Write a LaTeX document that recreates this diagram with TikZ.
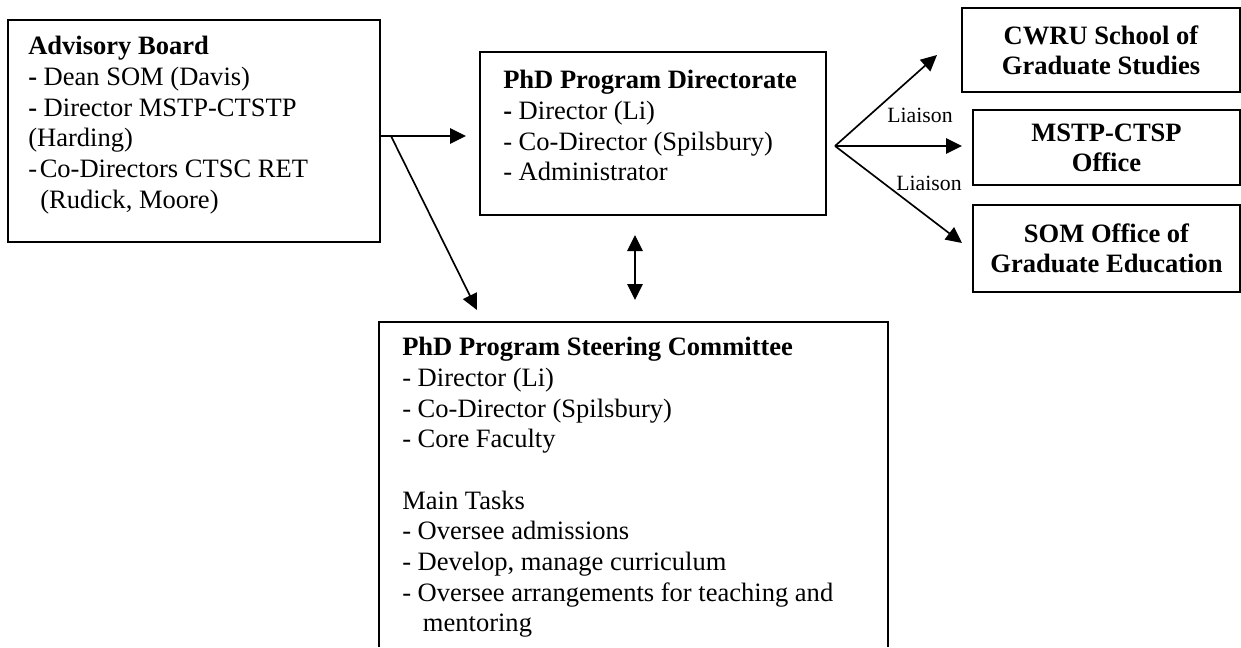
\documentclass[tikz,border=0pt]{standalone}
\usepackage{fontspec}
\setmainfont{Liberation Serif}
\usetikzlibrary{arrows.meta}
\begin{document}
\begin{tikzpicture}[x=0.75pt,y=-0.75pt,
  box/.style={draw, line width=1.3pt, inner sep=0pt, outer sep=0pt},
  frame/.style={inner sep=0pt, outer sep=0pt},
  body/.style={anchor=north west, align=left, inner sep=0pt, font=\fontsize{19.9pt}{23pt}\selectfont},
  ctr/.style={align=center, inner sep=0pt, font=\fontsize{19.9pt}{22.5pt}\selectfont\bfseries},
  conn/.style={line width=1.25pt},
  arr/.style={conn, -{Triangle[length=12pt,width=11.5pt]}},
  dbl/.style={conn, {Triangle[length=12pt,width=11.5pt]}-{Triangle[length=12pt,width=11.5pt]}},
  lbl/.style={inner sep=0pt, font=\fontsize{16.3pt}{18pt}\selectfont}]
\useasboundingbox (0,0) rectangle (1241,647);

% boxes
\node[box, minimum width=279pt, minimum height=166.5pt] (adv) at (194,131) {};
\node[box, minimum width=259.5pt, minimum height=122.25pt] (dir) at (653,133.5) {};
\node[box, minimum width=208.5pt, minimum height=63pt, ctr] (cwru) at (1101,50) {CWRU School of\\Graduate Studies};
\node[box, minimum width=200.25pt, minimum height=56.25pt, ctr] (mstp) at (1106.5,147.5) {MSTP-CTSP\\Office};
\node[box, minimum width=200.25pt, minimum height=65.25pt, ctr] (som) at (1106.5,248.5) {SOM Office of\\Graduate Education};
\node[frame, minimum width=381.75pt, minimum height=243.75pt] (steer) at (633.5,484.5) {};
\draw[line width=1.3pt] (steer.south west) -- (steer.north west) -- (steer.north east) -- (steer.south east);

% texts
\node[body] (advtxt) at (28,36) {\textbf{Advisory Board}\\
\textbf{-} Dean SOM (Davis)\\
\textbf{-} Director MSTP-CTSTP\\
(Harding)\\
-\hspace*{2pt}Co-Directors CTSC RET\\
\hspace*{9pt}(Rudick, Moore)};

\node[body] (dirtxt) at (503,70) {\textbf{PhD Program Directorate}\\
\textbf{-} Director (Li)\\
- Co-Director (Spilsbury)\\
- Administrator};

\node[body] (steertxt) at (402,337) {\textbf{PhD Program Steering Committee}\\
- Director (Li)\\
- Co-Director (Spilsbury)\\
- Core Faculty\\[23pt]
Main Tasks\\
- Oversee admissions\\
- Develop, manage curriculum\\
- Oversee arrangements for teaching and\\
\hspace*{15.5pt}mentoring};

% connectors left
\coordinate (bp) at (391,136);
\coordinate (steerin) at (477,310);
\draw[conn] (adv.east |- bp) -- (bp);
\draw[arr, shorten >=10.5pt] (bp) -- (dir.west |- bp);
\draw[arr] (bp) -- (steerin);

% double arrow
\coordinate (dx) at (635,0);
\draw[dbl, shorten <=15pt, shorten >=16.5pt] (dir.south -| dx) -- (steer.north -| dx);

% fan right
\coordinate (fan) at (835,146);
\coordinate (t1) at (937,55);
\coordinate (t3) at (962,243);
\draw[arr] (fan) -- (t1);
\draw[arr, shorten >=8.25pt] (fan) -- (mstp.west |- fan);
\draw[arr] (fan) -- (t3);
\node[lbl] (l1) at (920,115) {Liaison};
\node[lbl] (l2) at (929,183) {Liaison};
\end{tikzpicture}
\end{document}
